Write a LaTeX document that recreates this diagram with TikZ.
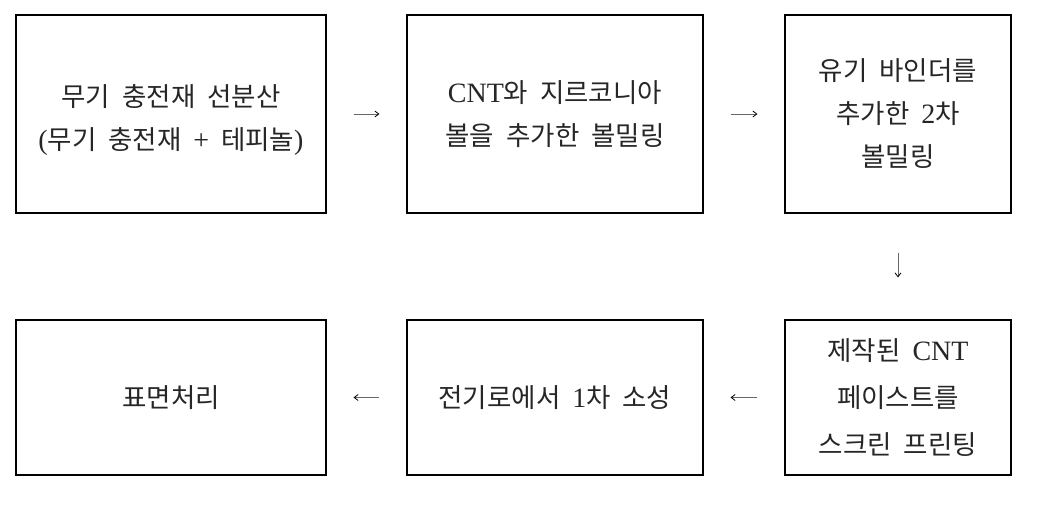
\documentclass[tikz,border=0pt]{standalone}
\usepackage{fontspec}
\setmainfont{Liberation Serif}
\newfontfamily\kr[WordSpace=2.0]{Noto Sans CJK KR}
\usetikzlibrary{arrows.meta}
\newcommand\latn[1]{{\rmfamily\fontsize{28}{43}\selectfont #1}}
\begin{document}
\begin{tikzpicture}[x=1pt,y=-1pt,
  boxshape/.style={draw=black,line width=1.1pt,inner sep=0pt},
  txt/.style={inner sep=0pt,align=center,
    font=\kr\fontsize{26.5}{43}\selectfont,text=black!85},
  stepbox/.style={boxshape,txt},
  conn/.style={line width=0.8pt,draw=black!60,-{Straight Barb[length=4pt,width=6pt,black]},
    shorten <=27pt,shorten >=27pt}]
\useasboundingbox (0,0) rectangle (1056,505);
\node[boxshape,minimum width=310pt,minimum height=198pt] (b1) at (171,114) {};
\node[txt] (t1) at (171,120)
  {무기 충전재 선분산\\\latn{(}무기 충전재 \latn{+} 테피놀\latn{)}};
\node[stepbox,minimum width=296pt,minimum height=198pt] (b2) at (555,114)
  {\latn{CNT}와 지르코니아\\볼을 추가한 볼밀링};
\node[stepbox,minimum width=226pt,minimum height=198pt] (b3) at (898,114)
  {유기 바인더를\\추가한 \latn{2}차\\볼밀링};
\node[stepbox,minimum width=226pt,minimum height=155pt,
  font=\kr\fontsize{26.5}{47}\selectfont] (b6) at (898,397.5)
  {제작된 \latn{CNT}\\페이스트를\\스크린 프린팅};
\node[stepbox,minimum width=296pt,minimum height=155pt] (b5) at (555,397.5)
  {전기로에서 \latn{1}차 소성};
\node[stepbox,minimum width=310pt,minimum height=155pt] (b4) at (171,397.5)
  {표면처리};
\draw[conn] (b1.east) -- (b2.west);
\draw[conn] (b2.east) -- (b3.west);
\draw[conn,shorten <=39pt,shorten >=42pt] (b3.south) -- (b6.north);
\draw[conn] (b6.west) -- (b5.east);
\draw[conn] (b5.west) -- (b4.east);
\end{tikzpicture}
\end{document}
